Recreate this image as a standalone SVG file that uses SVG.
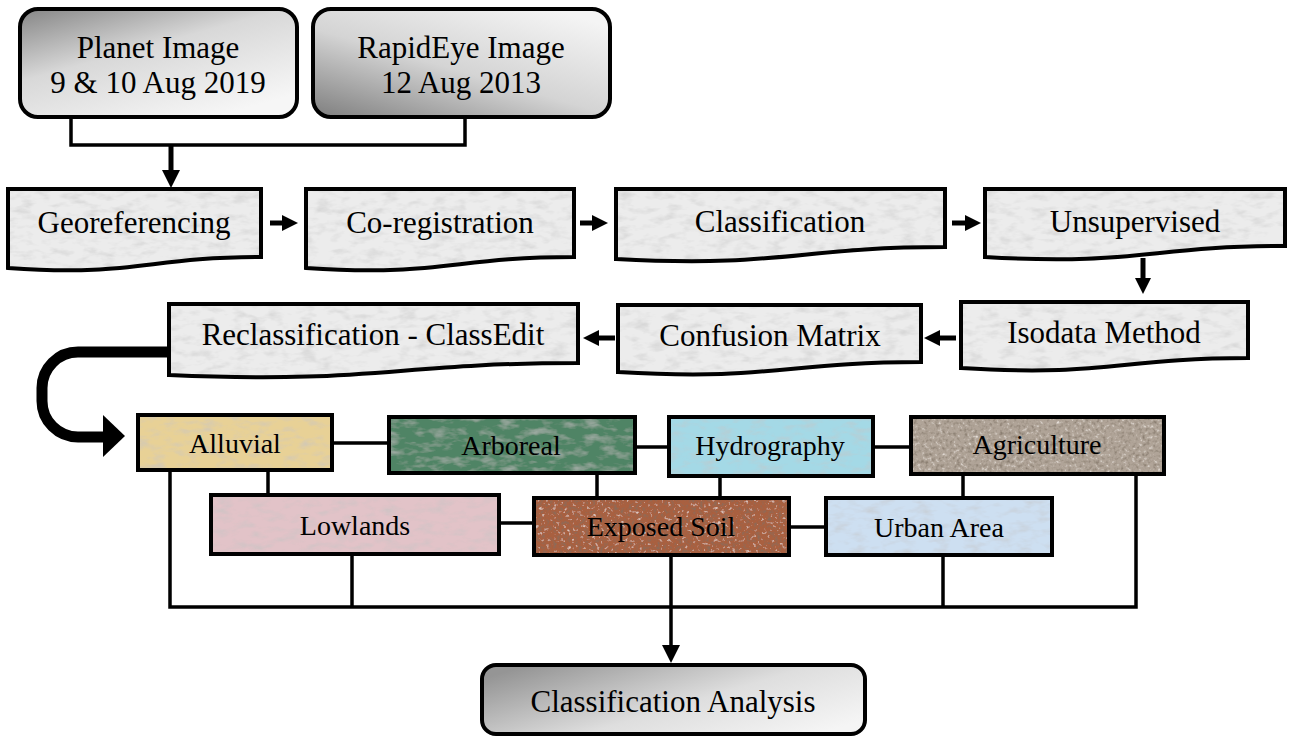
<svg xmlns="http://www.w3.org/2000/svg" width="1289" height="737" viewBox="0 0 1289 737">
<style>
  .lbl { font-family: "Liberation Serif", "Times New Roman", serif; font-size: 31px; fill: #000; text-anchor: middle; }
  .lbl2 { font-family: "Liberation Serif", "Times New Roman", serif; font-size: 28px; fill: #000; text-anchor: middle; }
  .docfill { fill: #ececec; stroke: none; filter: url(#grain); }
  .line { fill: none; stroke: #000; stroke-width: 4; }
  .rnd { stroke: #000; stroke-width: 4; }
  .wire { fill: none; stroke: #000; stroke-width: 3.5; }
  .arr { fill: none; stroke: #000; stroke-width: 5; }
</style>
<defs>
  <linearGradient id="gPlanet" x1="0" y1="0" x2="0.7" y2="1">
    <stop offset="0" stop-color="#858585"/>
    <stop offset="0.45" stop-color="#d8d8d8"/>
    <stop offset="1" stop-color="#f6f6f6"/>
  </linearGradient>
  <linearGradient id="gRapid" x1="0" y1="1" x2="0.8" y2="0">
    <stop offset="0" stop-color="#7e7e7e"/>
    <stop offset="0.5" stop-color="#d4d4d4"/>
    <stop offset="1" stop-color="#f4f4f4"/>
  </linearGradient>
  <linearGradient id="gAnal" x1="0" y1="0.2" x2="1" y2="0.8">
    <stop offset="0" stop-color="#959595"/>
    <stop offset="0.55" stop-color="#dedede"/>
    <stop offset="1" stop-color="#f5f5f5"/>
  </linearGradient>
  <filter id="grain" x="0" y="0" width="1" height="1">
    <feTurbulence type="fractalNoise" baseFrequency="0.06 0.14" numOctaves="3" seed="4" result="n"/>
    <feColorMatrix in="n" type="matrix" values="0 0 0 0 0.55  0 0 0 0 0.55  0 0 0 0 0.55  1.3 0 0 0 -0.6" result="a"/>
    <feComposite in="a" in2="SourceGraphic" operator="in" result="spots"/>
    <feMerge><feMergeNode in="SourceGraphic"/><feMergeNode in="spots"/></feMerge>
  </filter>
  <filter id="speck" x="0" y="0" width="1" height="1">
    <feTurbulence type="fractalNoise" baseFrequency="0.28" numOctaves="2" seed="7" result="n"/>
    <feColorMatrix in="n" type="matrix" values="0 0 0 0 0.2  0 0 0 0 0.16  0 0 0 0 0.12  2.2 0 0 0 -1.1" result="dk"/>
    <feColorMatrix in="n" type="matrix" values="0 0 0 0 1  0 0 0 0 0.96  0 0 0 0 0.92  -2.2 0 0 0 0.85" result="lt"/>
    <feComposite in="dk" in2="SourceGraphic" operator="in" result="d2"/>
    <feComposite in="lt" in2="SourceGraphic" operator="in" result="l2"/>
    <feMerge><feMergeNode in="SourceGraphic"/><feMergeNode in="l2"/><feMergeNode in="d2"/></feMerge>
  </filter>
  <marker id="ah" markerUnits="userSpaceOnUse" viewBox="0 0 16 16" markerWidth="16" markerHeight="16" refX="1" refY="8" orient="auto">
    <path d="M0,0 L16,8 L0,16 z" fill="#000"/>
  </marker>
  <marker id="ahb" markerUnits="userSpaceOnUse" viewBox="0 0 18 18" markerWidth="18" markerHeight="18" refX="1" refY="9" orient="auto">
    <path d="M0,0 L18,9 L0,18 z" fill="#000"/>
  </marker>
</defs>
<rect width="1289" height="737" fill="#fff"/>

<g id="connectors">
  <path class="wire" d="M71,118 V145 H465 V118"/>
  <line class="arr" x1="171" y1="145" x2="171" y2="171" marker-end="url(#ahb)"/>
  <line class="arr" x1="270" y1="223" x2="283" y2="223" marker-end="url(#ah)"/>
  <line class="arr" x1="580" y1="223" x2="593" y2="223" marker-end="url(#ah)"/>
  <line class="arr" x1="952" y1="223" x2="966" y2="223" marker-end="url(#ah)"/>
  <line class="arr" x1="1143" y1="258" x2="1143" y2="279" stroke-width="4" marker-end="url(#ah)"/>
  <line class="arr" x1="956" y1="338" x2="939" y2="338" marker-end="url(#ah)"/>
  <line class="arr" x1="615" y1="338" x2="598" y2="338" marker-end="url(#ah)"/>
  <path d="M169,352 H78 A36,36 0 0 0 42,388 V401 A36,36 0 0 0 78,437 H105" fill="none" stroke="#000" stroke-width="11"/>
  <polygon points="103,415 125,436 103,457" fill="#000"/>
  <path class="wire" d="M332,443 H389"/>
  <path class="wire" d="M635,447 H669"/>
  <path class="wire" d="M873,447 H911"/>
  <path class="wire" d="M268,470 V495"/>
  <path class="wire" d="M597,473 V498"/>
  <path class="wire" d="M720,476 V498"/>
  <path class="wire" d="M963,474 V498"/>
  <path class="wire" d="M499,523 H534"/>
  <path class="wire" d="M789,527 H826"/>
  <path class="wire" d="M170,470 V607 H1136 V474"/>
  <path class="wire" d="M352,555 V607"/>
  <path class="wire" d="M943,556 V607"/>
  <line class="wire" x1="671" y1="556" x2="671" y2="646" marker-end="url(#ahb)"/>
</g>

<g id="planet">
  <rect class="rnd" x="20" y="9" width="277" height="108" rx="18" fill="url(#gPlanet)"/>
  <text class="lbl" x="158" y="58">Planet Image</text>
  <text class="lbl" x="158" y="93">9 &amp; 10 Aug 2019</text>
</g>
<g id="rapideye">
  <rect class="rnd" x="313" y="9" width="297" height="108" rx="18" fill="url(#gRapid)"/>
  <text class="lbl" x="461" y="58">RapidEye Image</text>
  <text class="lbl" x="461" y="93">12 Aug 2013</text>
</g>

<g id="georeferencing">
  <path class="docfill" d="M8,189 H261 V257 C147,257 135,277 8,268 Z"/>
  <path class="line" d="M8,189 H261 V257 C147,257 135,277 8,268 Z"/>
  <text class="lbl" x="134" y="233">Georeferencing</text>
</g>
<g id="coregistration">
  <path class="docfill" d="M306,189 H574 V257 C453,257 441,277 306,268 Z"/>
  <path class="line" d="M306,189 H574 V257 C453,257 441,277 306,268 Z"/>
  <text class="lbl" x="440" y="233">Co-registration</text>
</g>
<g id="classification">
  <path class="docfill" d="M616,189 H945 V247 C797,247 782,268 616,259 Z"/>
  <path class="line" d="M616,189 H945 V247 C797,247 782,268 616,259 Z"/>
  <text class="lbl" x="780" y="232">Classification</text>
</g>
<g id="unsupervised">
  <path class="docfill" d="M985,189 H1285 V246 C1150,246 1136,266 985,257 Z"/>
  <path class="line" d="M985,189 H1285 V246 C1150,246 1136,266 985,257 Z"/>
  <text class="lbl" x="1135" y="232">Unsupervised</text>
</g>
<g id="isodata">
  <path class="docfill" d="M961,302 H1248 V358 C1119,358 1106,377 961,368 Z"/>
  <path class="line" d="M961,302 H1248 V358 C1119,358 1106,377 961,368 Z"/>
  <text class="lbl" x="1104" y="343">Isodata Method</text>
</g>
<g id="confusion">
  <path class="docfill" d="M618,305 H921 V362 C785,362 771,381 618,372 Z"/>
  <path class="line" d="M618,305 H921 V362 C785,362 771,381 618,372 Z"/>
  <text class="lbl" x="770" y="346">Confusion Matrix</text>
</g>
<g id="reclassification">
  <path class="docfill" d="M169,304 H578 V363 C394,363 375,384 169,375 Z"/>
  <path class="line" d="M169,304 H578 V363 C394,363 375,384 169,375 Z"/>
  <text class="lbl" x="373" y="345">Reclassification - ClassEdit</text>
</g>

<g id="alluvial">
  <rect x="138" y="415" width="194" height="55" fill="#e8d196" filter="url(#grain)"/>
  <rect class="line" x="138" y="415" width="194" height="55"/>
  <text class="lbl2" x="235" y="453">Alluvial</text>
</g>
<g id="arboreal">
  <rect x="389" y="417" width="246" height="56" fill="#4f8465" filter="url(#grain)"/>
  <rect class="line" x="389" y="417" width="246" height="56"/>
  <text class="lbl2" x="511" y="455">Arboreal</text>
</g>
<g id="hydrography">
  <rect x="669" y="417" width="204" height="59" fill="#a4d9e6" filter="url(#grain)"/>
  <rect class="line" x="669" y="417" width="204" height="59"/>
  <text class="lbl2" x="770" y="455">Hydrography</text>
</g>
<g id="agriculture">
  <rect x="911" y="417" width="253" height="57" fill="#b0a498" filter="url(#speck)"/>
  <rect class="line" x="911" y="417" width="253" height="57"/>
  <text class="lbl2" x="1037" y="454">Agriculture</text>
</g>
<g id="lowlands">
  <rect x="211" y="495" width="288" height="59" fill="#e2c3c8" filter="url(#grain)"/>
  <rect class="line" x="211" y="495" width="288" height="59"/>
  <text class="lbl2" x="355" y="535">Lowlands</text>
</g>
<g id="exposedsoil">
  <rect x="534" y="498" width="255" height="57" fill="#a9603f" filter="url(#speck)"/>
  <rect class="line" x="534" y="498" width="255" height="57"/>
  <text class="lbl2" x="661" y="536">Exposed Soil</text>
</g>
<g id="urbanarea">
  <rect x="826" y="498" width="226" height="57" fill="#cddff1" filter="url(#grain)"/>
  <rect class="line" x="826" y="498" width="226" height="57"/>
  <text class="lbl2" x="939" y="537">Urban Area</text>
</g>

<g id="analysis">
  <rect class="rnd" x="482" y="665" width="383" height="69" rx="14" fill="url(#gAnal)"/>
  <text class="lbl" x="673" y="712">Classification Analysis</text>
</g>
</svg>
